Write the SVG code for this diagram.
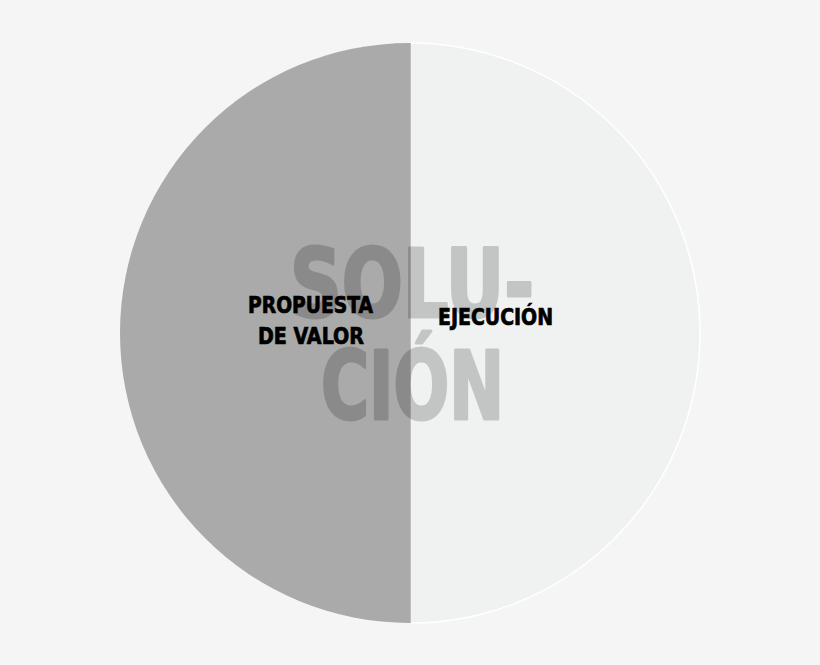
<svg xmlns="http://www.w3.org/2000/svg" width="820" height="665" viewBox="0 0 820 665">
<style>
.lbl{font-family:"DejaVu Sans Condensed","DejaVu Sans","Liberation Sans",sans-serif;font-stretch:condensed;font-weight:bold;fill:#000;stroke:#000;stroke-width:0.7;}
.big{font-family:"DejaVu Sans Condensed","DejaVu Sans","Liberation Sans",sans-serif;font-stretch:condensed;font-weight:bold;fill:#000;stroke:#000;stroke-width:3;stroke-linejoin:round;font-size:94px;}
</style>
<rect width="820" height="665" fill="#f5f5f5"/>
<g id="ejecucion-half">
<path d="M410,43 A290,290 0 0 1 410,623 Z" fill="#f0f1f1" stroke="#ffffff" stroke-width="1.5"/>
</g>
<g id="propuesta-half">
<path d="M410,43 A290,290 0 0 0 410,623 Z" fill="#a9aaa9"/>
<line x1="410.5" y1="43" x2="410.5" y2="623" stroke="#bdbebd" stroke-width="1"/>
</g>
<g id="solucion" opacity="0.18">
<text class="big" x="290" y="317" textLength="244" lengthAdjust="spacingAndGlyphs">SOLU-</text>
<text class="big" x="321" y="419" textLength="183" lengthAdjust="spacingAndGlyphs">CIÓN</text>
</g>
<g id="label-propuesta">
<text class="lbl" font-size="23" x="248" y="313" textLength="125" lengthAdjust="spacingAndGlyphs">PROPUESTA</text>
<text class="lbl" font-size="23" x="258" y="344" textLength="106" lengthAdjust="spacingAndGlyphs">DE VALOR</text>
</g>
<g id="label-ejecucion">
<text class="lbl" font-size="23" x="438" y="325" textLength="115" lengthAdjust="spacingAndGlyphs">EJECUCIÓN</text>
</g>
<g id="connectors"/>
</svg>
